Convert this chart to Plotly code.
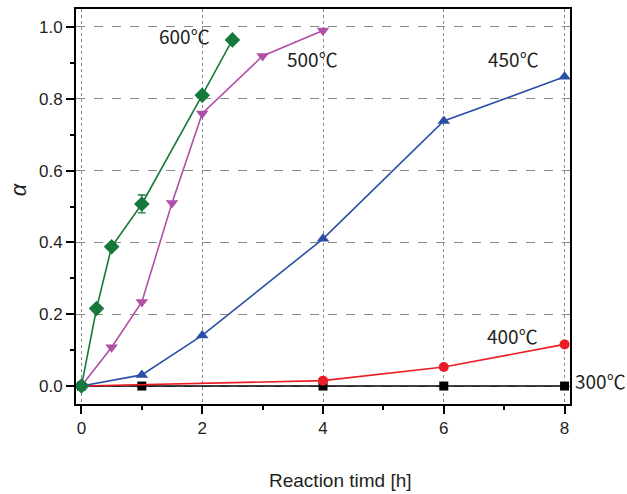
import plotly.graph_objects as go

# ---- data ----
t600 = [0, 0.25, 0.5, 1, 2, 2.5]
a600 = [0, 0.216, 0.388, 0.507, 0.81, 0.964]
err_x = [1]
err_y = [0.507]
err_val = [0.025]

t500 = [0, 0.5, 1, 1.5, 2, 3, 4]
a500 = [0, 0.108, 0.234, 0.51, 0.759, 0.919, 0.99]

t450 = [0, 1, 2, 4, 6, 8]
a450 = [0, 0.031, 0.141, 0.41, 0.738, 0.861]

t400 = [0, 4, 6, 8]
a400 = [0, 0.015, 0.053, 0.116]

t300 = [0, 1, 4, 6, 8]
a300 = [0, 0, 0, 0, 0]

labels = ["600℃", "500℃", "450℃", "400℃", "300℃"]
label_x = [1.70, 3.82, 7.15, 7.13, 8.60]
label_y = [0.975, 0.913, 0.913, 0.142, 0.016]

FONT = "Liberation Sans, Arial, sans-serif"
LFONT = "'Noto Sans CJK SC', 'Noto Sans', sans-serif"
TXT = "#231f20"
X0, X1 = -0.09, 8.09
Y0, Y1 = -0.05, 1.05

fig = go.Figure()

def add(x, y, color, symbol, size, name):
    fig.add_trace(go.Scatter(
        x=x, y=y, mode="lines+markers", name=name,
        line=dict(color=color, width=1.6),
        marker=dict(symbol=symbol, size=size, color=color,
                    line=dict(width=0, color=color)),
        cliponaxis=False, showlegend=False))

add(t300, a300, "#000000", "square", 9, "300")
add(t400, a400, "#ec1c24", "circle", 10, "400")
add(t450, a450, "#2b4ea5", "triangle-up", 11, "450")
add(t500, a500, "#b04fa8", "triangle-down", 11, "500")
add(t600, a600, "#14793a", "diamond", 12, "600")

fig.add_trace(go.Scatter(
    x=err_x, y=err_y, mode="markers",
    marker=dict(size=1, color="rgba(0,0,0,0)"),
    error_y=dict(type="data", array=err_val, color="#14793a",
                 thickness=1.3, width=4),
    showlegend=False))

for txt, xx, yy in zip(labels, label_x, label_y):
    fig.add_annotation(xref="paper", yref="paper",
                       x=(xx - X0) / (X1 - X0), y=(yy - Y0) / (Y1 - Y0),
                       text=txt, showarrow=False,
                       font=dict(family=LFONT, size=19, color=TXT),
                       xanchor="center", yanchor="middle")

fig.add_annotation(xref="paper", yref="paper", x=0.536, y=-0.194,
                   text="Reaction timd [h]", showarrow=False,
                   font=dict(family=FONT, size=19, color=TXT),
                   xanchor="center", yanchor="middle")
fig.add_annotation(xref="paper", yref="paper", x=-0.117, y=0.544,
                   text="<i>α</i>", showarrow=False, textangle=-90,
                   font=dict(family=FONT, size=22, color=TXT),
                   xanchor="center", yanchor="middle")

fig.update_layout(
    width=627, height=494,
    margin=dict(l=76, r=57, t=7, b=90),
    paper_bgcolor="white", plot_bgcolor="white",
    font=dict(family=FONT, size=17, color=TXT),
    xaxis=dict(range=[X0, X1], tick0=0, dtick=2,
               showgrid=True, griddash="dot", gridcolor="#8a8a8a", gridwidth=1,
               zeroline=False, showline=True, linecolor="black", linewidth=2,
               mirror=True, ticks="outside", ticklen=8, tickwidth=1.5,
               tickcolor="black", tickfont=dict(size=17, color=TXT),
               minor=dict(dtick=1, ticks="outside", ticklen=4, tickwidth=1.5,
                          tickcolor="black", showgrid=False)),
    yaxis=dict(range=[Y0, Y1], tick0=0, dtick=0.2, tickformat=".1f",
               showgrid=True, griddash="dash", gridcolor="#8a8a8a", gridwidth=1.3,
               zeroline=False, showline=True, linecolor="black", linewidth=2,
               mirror=True, ticks="outside", ticklen=8, tickwidth=1.5,
               tickcolor="black", tickfont=dict(size=17, color=TXT),
               minor=dict(dtick=0.1, ticks="outside", ticklen=4, tickwidth=1.5,
                          tickcolor="black", showgrid=False)),
)

fig.write_html("out.html")
